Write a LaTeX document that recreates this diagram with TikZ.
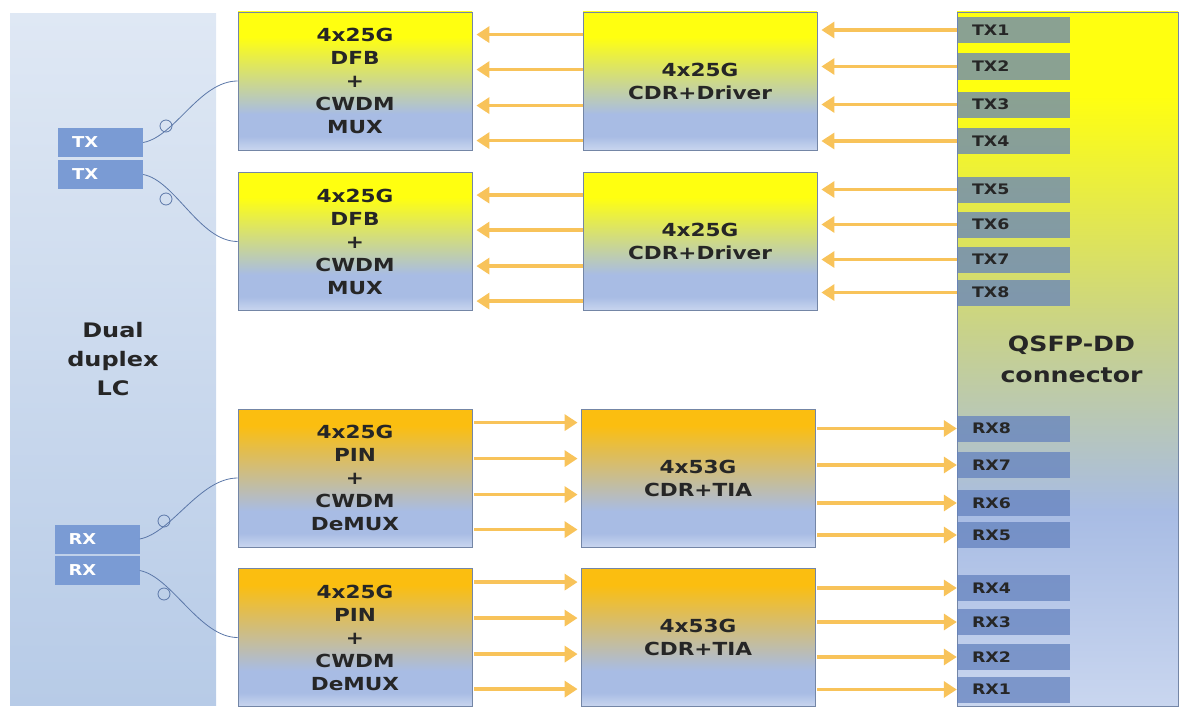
\documentclass[tikz,border=0pt]{standalone}
\usepackage{fontspec}
\setmainfont{DejaVu Sans}
\newfontfamily\wideFont{DejaVu Sans}[FakeStretch=1.2]
\usepackage{xcolor}
\definecolor{sigOrange}{HTML}{F8C35A}
\definecolor{edgeGrey}{HTML}{7486A6}
\definecolor{yelTop}{HTML}{FFFF10}
\definecolor{orgTop}{HTML}{FBBE10}
\definecolor{blueMid}{HTML}{A8BCE4}
\definecolor{bluePale}{HTML}{C9D6EF}
\definecolor{greenMid}{HTML}{C8D28A}
\definecolor{pinBlue}{HTML}{6482BE}
\definecolor{portBlue}{HTML}{7A9BD4}
\definecolor{fiberBlue}{HTML}{5B77A8}
\definecolor{lcTop}{HTML}{DFE8F4}
\definecolor{lcBot}{HTML}{B7CBE7}
\usepackage{tikz}
\usetikzlibrary{arrows.meta,calc}
\pgfdeclareverticalshading{txShade}{100bp}{color(0bp)=(bluePale); color(25bp)=(bluePale); color(30bp)=(blueMid); color(38bp)=(blueMid); color(66bp)=(yelTop); color(75bp)=(yelTop); color(100bp)=(yelTop)}
\pgfdeclareverticalshading{rxShade}{100bp}{color(0bp)=(bluePale); color(25bp)=(bluePale); color(30bp)=(blueMid); color(38bp)=(blueMid); color(69bp)=(orgTop); color(75bp)=(orgTop); color(100bp)=(orgTop)}
\pgfdeclareverticalshading{qsfpShade}{100bp}{color(0bp)=(bluePale); color(25bp)=(bluePale); color(39bp)=(blueMid); color(52bp)=(greenMid); color(69bp)=(yelTop); color(75bp)=(yelTop); color(100bp)=(yelTop)}
\pgfdeclareverticalshading{lcShade}{100bp}{color(0bp)=(lcBot); color(25bp)=(lcBot); color(75bp)=(lcTop); color(100bp)=(lcTop)}
\tikzset{
  blk/.style={draw=edgeGrey, line width=0.8pt, shade, minimum width=234pt, minimum height=138pt,
    align=center, inner sep=0pt, text=black!85, font=\wideFont\bfseries\fontsize{18}{23}\selectfont},
  txblk/.style={blk, shading=txShade},
  rxblk/.style={blk, shading=rxShade},
  pinbox/.style={fill=pinBlue, fill opacity=0.75, text opacity=1, text=black!85, inner xsep=15pt,
    inner ysep=0pt, text width=83pt, minimum height=26pt, align=left,
    font=\wideFont\bfseries\fontsize{14.5}{16}\selectfont},
  lcport/.style={fill=portBlue, text=white, inner xsep=14pt, inner ysep=0pt, text width=57pt,
    minimum height=29pt, align=left, font=\wideFont\bfseries\fontsize{15}{17}\selectfont},
  sig/.style={draw=sigOrange, line width=3.5pt, -{Triangle[length=13pt,width=16pt]}},
  fiber/.style={draw=fiberBlue, line width=0.8pt},
}

\begin{document}
\begin{tikzpicture}[x=1pt, y=-1pt]
  \useasboundingbox (0,0) rectangle (1180,709);
  % ------- left: dual duplex LC -------
  \node[shade, shading=lcShade, minimum width=206pt, minimum height=691pt, align=center,
    font=\wideFont\bfseries\fontsize{20}{29}\selectfont, text=black!85] (lc) at (113,359.5)
    {Dual\\duplex\\LC};
  \node[lcport] (txa) at (100.5,142.5) {TX};
  \node[lcport] (txb) at (100.5,174.5) {TX};
  \node[lcport] (rxa) at (97,539) {RX};
  \node[lcport] (rxb) at (97,570.5) {RX};
  % ------- optics and electronics -------
  \node[txblk] (dfb1) at (355,81) {4x25G\\DFB\\+\\CWDM\\MUX};
  \node[txblk] (dfb2) at (355,241.5) {4x25G\\DFB\\+\\CWDM\\MUX};
  \node[txblk] (drv1) at (700,81) {4x25G\\CDR+Driver};
  \node[txblk] (drv2) at (700,241.5) {4x25G\\CDR+Driver};
  \node[rxblk] (pin1) at (355,478) {4x25G\\PIN\\+\\CWDM\\DeMUX};
  \node[rxblk] (pin2) at (355,637.5) {4x25G\\PIN\\+\\CWDM\\DeMUX};
  \node[rxblk] (tia1) at (698,478) {4x53G\\CDR+TIA};
  \node[rxblk] (tia2) at (698,637.5) {4x53G\\CDR+TIA};
  % ------- right: QSFP-DD connector -------
  \node[draw=edgeGrey, line width=0.8pt, shade, shading=qsfpShade, minimum width=221pt,
    minimum height=694pt, align=center, text=black!85,
    font=\wideFont\bfseries\fontsize{21}{31}\selectfont] (qsfp) at (1067.5,359)
    {\hspace*{8pt}QSFP-DD\\\hspace*{8pt}connector};
  \foreach \n/\yc in {1/30,2/66.5,3/104.5,4/141,5/189.5,6/224.5,7/259.5,8/292.5}
    \node[pinbox] (tx\n) at (1013.5,\yc) {TX\n};
  \foreach \n/\yc in {8/428.5,7/465,6/503,5/535,4/588,3/622,2/657,1/689.5}
    \node[pinbox] (rx\n) at (1013.5,\yc) {RX\n};
  % ------- signal lanes -------
  \foreach \n in {1,...,4}
    \draw[sig, shorten >=4pt] (tx\n.west) -- (tx\n.west -| drv1.east);
  \foreach \n in {5,...,8}
    \draw[sig, shorten >=4pt] (tx\n.west) -- (tx\n.west -| drv2.east);
  \foreach \g in {1,2}
    \foreach \d in {23,58,94,129}
      \draw[sig, shorten >=4pt] ($(drv\g.north west)+(0,\d)$) -- ($(dfb\g.north east)+(0,\d)$);
  \foreach \g in {1,2}
    \foreach \d in {14,50,86,121}
      \draw[sig, shorten <=2pt, shorten >=3pt] ($(pin\g.north east)+(0,\d)$) -- ($(tia\g.north west)+(0,\d)$);
  \foreach \n in {8,7,6,5}
    \draw[sig, shorten <=2pt] (tia1.east |- rx\n.west) -- (rx\n.west);
  \foreach \n in {4,3,2,1}
    \draw[sig, shorten <=2pt] (tia2.east |- rx\n.west) -- (rx\n.west);
  % ------- fibres -------
  \draw[fiber] (txa.east) .. controls +(32,-6) and +(-38,0) .. (dfb1.west);
  \draw[fiber] (txb.east) .. controls +(32,6) and +(-38,0) .. (dfb2.west);
  \draw[fiber] (rxa.east) .. controls +(32,-6) and +(-38,0) .. (pin1.west);
  \draw[fiber] (rxb.east) .. controls +(32,6) and +(-38,0) .. (pin2.west);
  \foreach \cx/\cy in {166/126,166/199,164/521,164/594}
    \draw[fiber] (\cx,\cy) circle (6pt);
\end{tikzpicture}
\end{document}
